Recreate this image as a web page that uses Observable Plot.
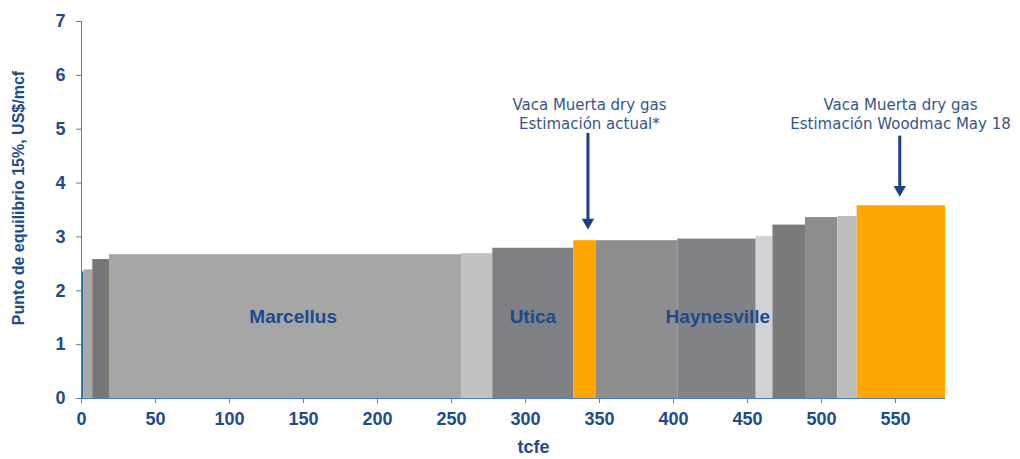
<!DOCTYPE html>
<html>
<head>
<meta charset="utf-8">
<script src="https://cdn.jsdelivr.net/npm/d3@7"></script>
<script src="https://cdn.jsdelivr.net/npm/@observablehq/plot@0.6"></script>
<style>
  html, body { margin: 0; padding: 0; background: #fff; }
  #chart svg { display: block; }
</style>
</head>
<body>
<div id="chart"></div>
<script>
// Segment start / end (tcfe), breakeven price (US$/mcf) and fill colour
const segStart  = [0, 1.6, 7.6, 18.9, 256.8, 277.9, 332.6, 348.0, 402.9, 455.9, 467.2, 489.2, 511.0, 524.1];
const segEnd    = [1.6, 7.6, 18.9, 256.8, 277.9, 332.6, 348.0, 402.9, 455.9, 467.2, 489.2, 511.0, 524.1, 583.8];
const breakeven = [2.35, 2.39, 2.58, 2.67, 2.69, 2.79, 2.93, 2.93, 2.96, 3.01, 3.22, 3.36, 3.38, 3.58];
const segColor  = ["#1b6aa0", "#a9a9a9", "#767676", "#a6a6a6", "#c2c2c2", "#7e8084", "#ffa600",
                   "#8e8e8e", "#818386", "#d2d2d6", "#7a7a7a", "#8d8d8d", "#bdbdbd", "#ffa600"];

// Play labels inside the bars
const playNames = ["Marcellus", "Utica", "Haynesville"];
const playX     = [143, 305, 430];
const playY     = [1.52, 1.52, 1.52];

// Vaca Muerta annotations
const noteText  = ["Vaca Muerta dry gas\nEstimación actual*", "Vaca Muerta dry gas\nEstimación Woodmac May 18"];
const noteX     = [343.2, 553.4];
const noteY     = [5.29, 5.29];
const arrowX    = [342.2, 552.9];
const arrowTop  = [4.81, 4.76];
const arrowTip  = [3.14, 3.75];

const xTicks = [0, 50, 100, 150, 200, 250, 300, 350, 400, 450, 500, 550];
const yTicks = [0, 1, 2, 3, 4, 5, 6, 7];
const xTitle = "tcfe";
const yTitle = "Punto de equilibrio 15%, US$/mcf";

const segments = segStart.map((s, i) => ({x1: s, x2: segEnd[i], y: breakeven[i], color: segColor[i]}));
const plays = playNames.map((n, i) => ({name: n, x: playX[i], y: playY[i]}));
const notes = noteText.map((t, i) => ({text: t, x: noteX[i], y: noteY[i]}));
const arrows = arrowX.map((x, i) => ({x, top: arrowTop[i], tip: arrowTip[i]}));

const navy = "#1d4b8e";
const axisBlue = "#4a7fbf";
const arrowColor = "#1c3f8c";

const chart = Plot.plot({
  width: 1020,
  height: 459,
  marginLeft: 81,
  marginRight: 75,
  marginTop: 21,
  marginBottom: 61,
  style: {fontFamily: "'Liberation Sans', Arial, sans-serif", background: "#fff"},
  x: {domain: [0, segEnd[segEnd.length - 1]], axis: null},
  y: {domain: [0, 7], axis: null},
  marks: [
    Plot.rect(segments, {x1: "x1", x2: "x2", y1: 0, y2: "y", fill: d => d.color}),
    Plot.ruleX([0], {stroke: axisBlue, strokeWidth: 1}),
    Plot.ruleY([0], {stroke: axisBlue, strokeWidth: 1}),
    Plot.axisY({ticks: yTicks, tickSize: 5, tickPadding: 11, tickFormat: d => String(d),
                fontSize: 18, fontWeight: "bold", color: navy, stroke: axisBlue, label: null}),
    Plot.axisX({ticks: xTicks, tickSize: 5, tickPadding: 9, tickFormat: d => String(d),
                fontSize: 18, fontWeight: "bold", color: navy, stroke: axisBlue, label: null}),
    Plot.text([yTitle], {frameAnchor: "left", rotate: -90, dx: -63, dy: -12, fontSize: 16,
                         fontWeight: "bold", fill: navy, textAnchor: "middle"}),
    Plot.text([xTitle], {frameAnchor: "bottom", dx: 20, dy: 54, fontSize: 18,
                         fontWeight: "bold", fill: navy}),
    Plot.text(plays, {x: "x", y: "y", text: "name", fontSize: 19, fontWeight: "bold", fill: "#1a4a8f"}),
    Plot.ruleX(arrows, {x: "x", y1: "top", y2: "tip", dy: -6, stroke: arrowColor, strokeWidth: 3}),
    Plot.dot(arrows, {x: "x", y: "tip", dy: -7, symbol: "triangle", rotate: 180, r: 4.6,
                      fill: arrowColor, stroke: "none"}),
    Plot.text(notes, {x: "x", y: "y", text: "text", fontSize: 15, lineHeight: 1.25,
                      fontFamily: "'DejaVu Sans', sans-serif", fontWeight: "normal", fill: "#34568b"})
  ]
});
document.getElementById("chart").appendChild(chart);
</script>
</body>
</html>
